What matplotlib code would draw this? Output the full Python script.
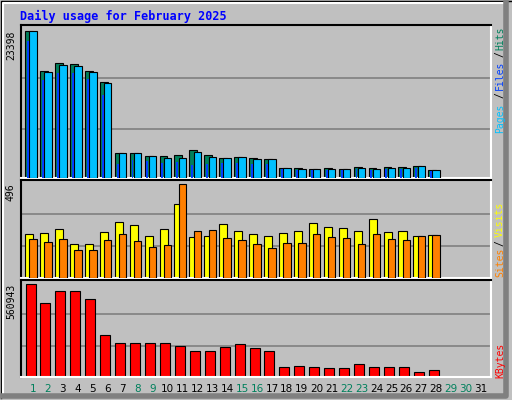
import matplotlib
matplotlib.use("Agg")
import matplotlib.pyplot as plt
from matplotlib.patches import Rectangle
from matplotlib.lines import Line2D

days = list(range(1, 32))
hits = [23398,17046,18211,18052,17046,15299,4023,4023,3547,3441,3706,4500,3706,3229,3388,3229,3100,
        1641,1535,1430,1535,1430,1694,1535,1694,1694,1959,1270]
files = [23398,16888,18000,17840,16888,15140,4023,4023,3547,3229,3229,4182,3388,3229,3388,3070,3017,
         1600,1500,1400,1500,1400,1650,1500,1650,1650,1900,1240]
pages = [21810,15617,16623,16623,15776,13235,2276,2806,2647,2329,2594,2011,2276,2329,2435,2170,2200,
         1400,1300,1220,1300,1220,1450,1300,1450,1450,1650,1080]
visits = [233,238,260,179,179,243,297,281,222,260,388,217,222,286,249,233,222,238,249,292,270,265,249,308,243,249,222,227]
sites = [206,190,206,147,147,200,233,195,163,174,496,249,254,211,200,179,158,184,184,233,217,211,179,233,206,200,222,227]
kbytes = [560943,444200,518000,518000,468800,253800,204700,204700,204700,204700,188300,155600,155600,180100,
          198600,174000,155600,57300,63500,57300,51200,51200,75700,57300,57300,57300,32800,45000]
weekend = [1,2,8,9,15,16,22,23,29,30]

W, H = 512, 400
BG = "#C0C0C0"
fig = plt.figure(figsize=(W/100, H/100), dpi=100, facecolor=BG)
mono = "DejaVu Sans Mono"

def mkax(y0, y1):
    x0, x1 = 20.7, 491
    ax = fig.add_axes([x0/W, 1-y1/H, (x1-x0)/W, (y1-y0)/H])
    ax.set_facecolor(BG)
    ax.set_xlim(0.17, 31.67)
    ax.set_xticks([]); ax.set_yticks([])
    for s in ["left", "top"]:
        ax.spines[s].set_color("black"); ax.spines[s].set_linewidth(1.5)
    for s in ["right", "bottom"]:
        ax.spines[s].set_color("white"); ax.spines[s].set_linewidth(1.5)
    return ax

def grid(ax, mx):
    ax.set_ylim(0, mx*1.04)
    for f in (0.335, 0.68):
        ax.axhline(mx*f, color="#808080", lw=1.2, zorder=0)
    ax.text(-0.01, mx, str(mx), transform=ax.get_yaxis_transform(), rotation=90,
            ha="right", va="top", fontsize=7, family=mono)

n = len(hits)
d = days[:n]
ax1 = mkax(25, 178)
grid(ax1, max(hits))
ax1.bar([x-0.265 for x in d], hits, width=0.53, color="#00805C", edgecolor="black", lw=0.8, zorder=2)
ax1.bar(d, files, width=0.5, color="#00C0FF", edgecolor="black", lw=0.8, zorder=3)
ax1.bar([x-0.34 for x in d], pages, width=0.13, color="#0040FF", lw=0, zorder=4)

ax2 = mkax(180, 278)
grid(ax2, max(sites))
ax2.bar([x-0.255 for x in d], visits, width=0.55, color="#FFFF00", edgecolor="black", lw=0.8, zorder=2)
ax2.bar(d, sites, width=0.5, color="#FF8000", edgecolor="black", lw=0.8, zorder=3)

ax3 = mkax(280, 377)
grid(ax3, max(kbytes))
ax3.bar([x-0.17 for x in d], kbytes, width=0.67, color="#FF0000", edgecolor="black", lw=0.8, zorder=2)
ax3.set_xticks(days)
ax3.set_xticklabels([str(x) for x in days], fontsize=7.5, family="DejaVu Sans")
ax3.tick_params(axis="x", length=0, pad=5)
for lab, dd in zip(ax3.get_xticklabels(), days):
    lab.set_color("#00805C" if dd in weekend else "black")

fig.text(20/W, 1-16/H, "Daily usage for February 2025", color="#0000FF", family=mono,
         fontweight="bold", fontsize=8.5, va="center", ha="left")

def rlab(txt, y, col):
    fig.text(500/W, 1-y/H, txt, rotation=90, color=col, family=mono, fontsize=7, ha="center", va="center")
rlab("Hits", 38, "#00805C"); rlab("/", 54, "black"); rlab("Files", 75, "#0040FF")
rlab("/", 95, "black"); rlab("Pages", 118, "#00C0FF")
rlab("Visits", 219, "#FFFF00"); rlab("/", 243, "black"); rlab("Sites", 262, "#FF8000")
rlab("KBytes", 360, "#FF0000")

# outer frame
fig.add_artist(Line2D([1/W, 1/W, 1-1/W], [0.005, 1-1/H, 1-1/H], color="black", lw=1, transform=fig.transFigure))
fig.add_artist(Line2D([3/W, 3/W, 1-8/W], [6/H, 1-3/H, 1-3/H], color="white", lw=1.5, transform=fig.transFigure))
fig.add_artist(Line2D([3/W, 1-6/W, 1-6/W], [4/H, 4/H, 1-3/H], color="#808080", lw=4, transform=fig.transFigure))
fig.savefig("out.png", dpi=100, facecolor=BG)
